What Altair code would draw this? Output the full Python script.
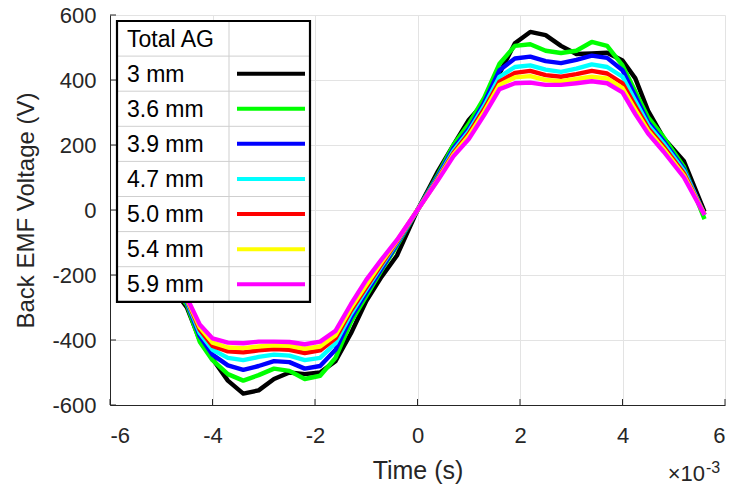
import altair as alt
import pandas as pd

# ---------------- data ----------------
time_ms = [-5.6, -5.2, -4.8, -4.5, -4.25, -4.0, -3.7, -3.4, -3.1, -2.8, -2.5, -2.2, -1.9,
           -1.6, -1.3, -1.0, -0.7, -0.4, 0.0, 0.4, 0.7, 1.0, 1.3, 1.6, 1.9, 2.2, 2.5, 2.8,
           3.1, 3.4, 3.7, 4.0, 4.25, 4.5, 4.8, 5.2, 5.6]

series_names = ["3 mm", "3.6 mm", "3.9 mm", "4.7 mm", "5.0 mm", "5.4 mm", "5.9 mm"]
series_colors = ["#000000", "#00ff00", "#0000ff", "#00ffff", "#ff0000", "#ffff00", "#ff00ff"]

v_3_0 = [5, -145, -235, -300, -400, -458, -525, -565, -555, -520, -500, -505, -500, -465, -380,
         -280, -205, -140, 0, 120, 200, 277, 330, 420, 513, 548, 538, 505, 480, 482, 484, 460,
         405, 305, 222, 150, -5]
v_3_6 = [20, -135, -230, -292, -405, -462, -505, -525, -508, -488, -495, -520, -510, -455, -345,
         -265, -185, -110, 0, 110, 200, 265, 345, 450, 505, 510, 490, 483, 490, 517, 505, 445,
         365, 285, 225, 132, -28]
v_3_9 = [12, -132, -225, -285, -388, -445, -478, -492, -480, -465, -468, -488, -480, -430, -332,
         -255, -180, -105, 0, 105, 190, 250, 330, 430, 466, 472, 458, 452, 462, 475, 468, 430,
         350, 270, 212, 125, -15]
v_4_7 = [12, -128, -220, -280, -378, -430, -455, -462, -452, -445, -448, -462, -455, -410, -320,
         -245, -172, -100, 0, 100, 182, 242, 320, 410, 440, 445, 432, 425, 435, 448, 440, 410,
         335, 262, 205, 120, -14]
v_5_0 = [12, -125, -215, -276, -368, -418, -435, -438, -432, -428, -430, -440, -432, -395, -310,
         -238, -166, -97, 0, 97, 175, 235, 310, 395, 422, 428, 415, 410, 418, 428, 420, 390,
         320, 252, 195, 112, -14]
v_5_4 = [12, -122, -212, -273, -360, -408, -423, -425, -420, -416, -418, -427, -420, -385, -302,
         -230, -160, -94, 0, 94, 170, 228, 302, 385, 408, 412, 400, 396, 403, 410, 405, 375,
         308, 244, 188, 106, -14]
v_5_9 = [12, -118, -208, -270, -352, -395, -408, -410, -405, -405, -406, -413, -405, -372, -290,
         -215, -152, -92, 0, 92, 165, 218, 292, 372, 390, 392, 385, 385, 390, 396, 390, 362,
         295, 235, 180, 100, -15]

series_values = [v_3_0, v_3_6, v_3_9, v_4_7, v_5_0, v_5_4, v_5_9]

x_ticks = [-6, -4, -2, 0, 2, 4, 6]
y_ticks = [-600, -400, -200, 0, 200, 400, 600]
legend_title = "Total AG"
x_title = "Time (s)"
y_title = "Back EMF Voltage (V)"
x_multiplier = "\u00d710"
x_exponent = "-3"

# ---------------- layout / style ----------------
W, H = 615, 390
FONT = "Liberation Sans"
TXT = "#262626"
GRID = "#e3e3e3"
HYPHEN = "replace(datum.label, '\u2212', '-')"

rows = []
for name, vals in zip(series_names, series_values):
    for t, v in zip(time_ms, vals):
        rows.append({"t": t, "v": v, "series": name})
df = pd.DataFrame(rows)

xscale = alt.Scale(domain=[-6, 6], nice=False, zero=False)
yscale = alt.Scale(domain=[-600, 600], nice=False, zero=False)
cscale = alt.Scale(domain=series_names, range=series_colors)

lines = alt.Chart(df).mark_line(strokeWidth=4.4, strokeJoin="round").encode(
    x=alt.X("t:Q", scale=xscale,
            axis=alt.Axis(values=x_ticks, title=x_title, grid=True, gridColor=GRID,
                          domainColor=TXT, ticks=False, labelFont=FONT, labelFontSize=22,
                          labelColor=TXT, labelPadding=20, labelExpr=HYPHEN,
                          titleFont=FONT, titleFontSize=25,
                          titleFontWeight="normal", titleColor=TXT, titleY=73,
                          titleBaseline="alphabetic")),
    y=alt.Y("v:Q", scale=yscale,
            axis=alt.Axis(values=y_ticks, title=y_title, grid=True, gridColor=GRID,
                          domainColor=TXT, ticks=False, labelFont=FONT, labelFontSize=22,
                          labelColor=TXT, labelPadding=14, labelExpr=HYPHEN,
                          titleFont=FONT, titleFontSize=24,
                          titleFontWeight="normal", titleColor=TXT, titleX=-84, titleY=H / 2,
                          titleAngle=270, titleAlign="center", titleBaseline="middle")),
    color=alt.Color("series:N", scale=cscale, legend=None),
)

# inward ticks
xt = alt.Chart(pd.DataFrame({"t": x_ticks})).mark_rule(color=TXT, strokeWidth=1).encode(
    x=alt.X("t:Q", scale=xscale), y=alt.value(H - 6), y2=alt.value(H))
yt = alt.Chart(pd.DataFrame({"v": y_ticks})).mark_rule(color=TXT, strokeWidth=1).encode(
    y=alt.Y("v:Q", scale=yscale), x=alt.value(0), x2=alt.value(6))

# ---------------- table-like legend ----------------
one = pd.DataFrame({"a": [0]})
L, R, T = 7, 200, 6
ROW = 35.1
B = T + 8 * ROW
DIV = 119

layers = [lines, xt, yt]
layers.append(alt.Chart(one).mark_rect(fill="white").encode(
    x=alt.value(L), x2=alt.value(R), y=alt.value(T), y2=alt.value(B)))
for i in range(1, 8):
    layers.append(alt.Chart(one).mark_rule(color="#cfcfcf", strokeWidth=1).encode(
        x=alt.value(L), x2=alt.value(R), y=alt.value(T + i * ROW)))
layers.append(alt.Chart(one).mark_rule(color="#cfcfcf", strokeWidth=1).encode(
    x=alt.value(DIV), y=alt.value(T), y2=alt.value(B)))
labels = [legend_title] + series_names
for i, lab in enumerate(labels):
    yc = T + i * ROW + ROW / 2 + 1
    layers.append(alt.Chart(pd.DataFrame({"label": [lab]})).mark_text(
        align="left", baseline="middle", font=FONT, fontSize=23, color="#000000").encode(
        x=alt.value(L + 10), y=alt.value(yc), text="label:N"))
for i, name in enumerate(series_names):
    yc = T + (i + 1) * ROW + ROW / 2
    layers.append(alt.Chart(pd.DataFrame({"series": [name]})).mark_rule(strokeWidth=4).encode(
        x=alt.value(DIV + 8), x2=alt.value(R - 5), y=alt.value(yc),
        color=alt.Color("series:N", scale=cscale, legend=None)))
layers.append(alt.Chart(one).mark_rect(fill=None, stroke="#000000", strokeWidth=2.2).encode(
    x=alt.value(L), x2=alt.value(R), y=alt.value(T), y2=alt.value(B)))

# x10^-3 multiplier
layers.append(alt.Chart(pd.DataFrame({"s": [x_multiplier]})).mark_text(
    align="right", baseline="alphabetic", font=FONT, fontSize=22, color=TXT).encode(
    x=alt.value(W - 20), y=alt.value(H + 76), text="s:N"))
layers.append(alt.Chart(pd.DataFrame({"s": [x_exponent]})).mark_text(
    align="left", baseline="alphabetic", font=FONT, fontSize=16, color=TXT).encode(
    x=alt.value(W - 19), y=alt.value(H + 68), text="s:N"))

chart = alt.layer(*layers).properties(
    width=W, height=H,
    padding={"left": 110, "top": 15, "right": 7, "bottom": 83},
    autosize=alt.AutoSizeParams(type="none"),
    background="white",
).configure_view(stroke=None)

chart.save("out.html", embed_options={"renderer": "svg", "actions": False})
